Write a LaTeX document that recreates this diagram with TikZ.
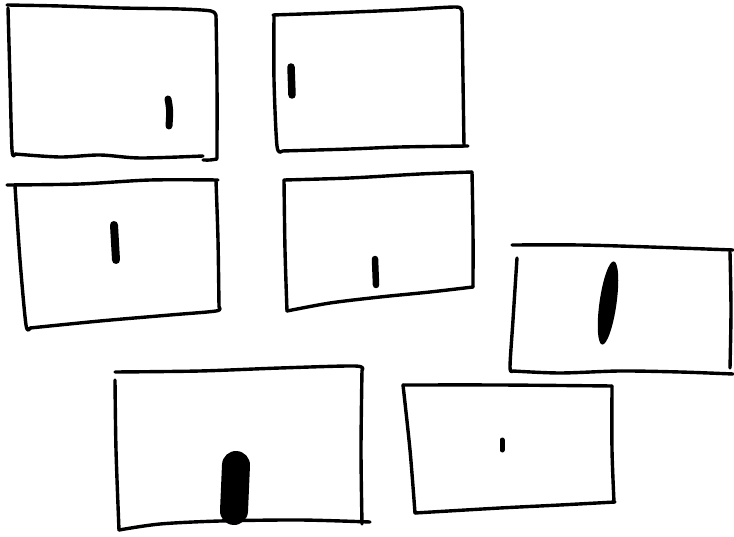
\documentclass[tikz,border=0pt]{standalone}
\begin{document}
\begin{tikzpicture}[x=1pt,y=-1pt,
  sk/.style={line width=3.4pt, line cap=round, line join=round},
  blob/.style={line cap=round, draw=black}]
\useasboundingbox (0,0) rectangle (734,537);
% Rect 1
\draw[sk] plot[smooth] coordinates {(7,5) (60,6) (120,8) (180,9) (211,11) (216,16)};
\draw[sk] plot[smooth] coordinates {(216,16) (217,80) (217,158)};
\draw[sk] plot[smooth] coordinates {(8,8) (10,80) (12,150) (15,154)};
\draw[sk] plot[smooth] coordinates {(15,154) (60,157) (100,155) (140,158) (203,156)};
\draw[sk] plot[smooth] coordinates {(203,160) (210,160) (217,159)};
\draw[blob,line width=7pt] (168,99) .. controls (170,110) .. (169,126);
% Rect 2
\draw[sk] plot[smooth] coordinates {(273,15) (330,13) (400,10) (455,7) (461,10)};
\draw[sk] plot[smooth] coordinates {(274,16) (274,80) (277,146) (282,151)};
\draw[sk] plot[smooth] coordinates {(282,151) (350,149) (400,147) (468,146)};
\draw[sk] plot[smooth] coordinates {(462,10) (463,80) (464,146)};
\draw[blob,line width=7.5pt] (291,67) -- (292,95);
% Rect 3
\draw[sk] plot[smooth] coordinates {(7,185) (80,184) (150,180) (218,180)};
\draw[sk] plot[smooth] coordinates {(15,186) (20,260) (26,325) (30,328)};
\draw[sk] plot[smooth] coordinates {(30,328) (100,321) (170,315) (216,311) (219,307)};
\draw[sk] plot[smooth] coordinates {(216,181) (218,240) (219,307)};
\draw[blob,line width=8pt] (114,225) -- (116,260);
% Rect 4
\draw[sk] plot[smooth] coordinates {(284,180) (350,178) (420,174) (472,172)};
\draw[sk] plot[smooth] coordinates {(284,180) (285,250) (287,311)};
\draw[sk] plot[smooth] coordinates {(287,311) (330,303) (380,297) (430,292) (473,287)};
\draw[sk] plot[smooth] coordinates {(472,172) (473,230) (473,287)};
\draw[blob,line width=6.5pt] (375,259) -- (376,285);
% Rect 5
\draw[sk] plot[smooth] coordinates {(512,245) (580,245) (650,247) (733,250)};
\draw[sk] plot[smooth] coordinates {(517,258) (513,320) (510,367) (513,371)};
\draw[sk] plot[smooth] coordinates {(513,371) (560,373) (620,371) (680,372) (733,374)};
\draw[sk] plot[smooth] coordinates {(730,252) (731,310) (730,368)};
\fill[rotate around={-8:(608,303)}] (608,303) ellipse [x radius=8.5, y radius=42];
% Rect 6
\draw[sk] plot[smooth] coordinates {(115,372) (200,371) (280,368) (355,366) (362,370)};
\draw[sk] plot[smooth] coordinates {(115,380) (116,450) (119,530)};
\draw[sk] plot[smooth] coordinates {(119,530) (160,524) (220,521) (300,520) (370,522)};
\draw[sk] plot[smooth] coordinates {(362,370) (361,450) (362,524)};
\draw[blob,line width=28pt] (236,465) -- (234,511);
% Rect 7
\draw[sk] plot[smooth] coordinates {(403,385) (500,385) (612,386)};
\draw[sk] plot[smooth] coordinates {(403,385) (410,450) (415,513)};
\draw[sk] plot[smooth] coordinates {(415,513) (500,508) (560,505) (615,502)};
\draw[sk] plot[smooth] coordinates {(612,386) (612,450) (614,502)};
\draw[blob,line width=5pt] (502,440) -- (502,450);
\end{tikzpicture}
\end{document}
